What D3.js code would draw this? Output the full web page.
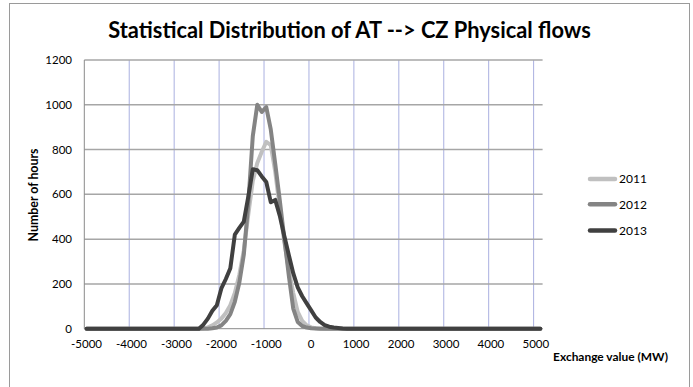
<!DOCTYPE html>
<html>
<head>
<meta charset="utf-8">
<script src="https://cdn.jsdelivr.net/npm/d3@7"></script>
<style>
  html, body { margin: 0; padding: 0; background: #fff; }
  svg { display: block; }
  text { font-family: Lato, "Open Sans", sans-serif; fill: #000; }
</style>
</head>
<body>
<div id="chart"></div>
<script>
// ---------- DATA ----------
const chartTitle = "Statistical Distribution of AT --> CZ Physical flows";
const xTitle = "Exchange value (MW)";
const yTitle = "Number of hours";
// categories: exchange value bins (MW), 100 MW steps
const categories = d3.range(-5000, 5101, 100);
const xTickLabels = ["-5000","-4000","-3000","-2000","-1000","0","1000","2000","3000","4000","5000"];
const yTicks = [0, 200, 400, 600, 800, 1000, 1200];
const seriesNames = ["2011", "2012", "2013"];

const values2011 = [
  0,0,0,0,0,0,0,0,0,0, 0,0,0,0,0,0,0,0,0,0, 0,0,0,0,0,0,
  2,6,15,28,45,70,105,160,240,350,510,660,740,790,835,820,700,540,390,265,160,75,35,15,6,2,1,
  0,0,0,0,0,0,0,0,0,0, 0,0,0,0,0,0,0,0,0,0, 0,0,0,0,0,0,0,0,0,0, 0,0,0,0,0,0,0,0,0,0, 0,0,0,0,0,0,0,0,0
];
const values2012 = [
  0,0,0,0,0,0,0,0,0,0, 0,0,0,0,0,0,0,0,0,0, 0,0,0,0,0,0,0,0,
  2,5,15,35,65,120,205,330,560,860,1000,968,990,890,735,575,405,240,90,30,12,5,2,1,
  0,0,0,0,0,0,0,0,0,0, 0,0,0,0,0,0,0,0,0,0, 0,0,0,0,0,0,0,0,0,0, 0,0,0,0,0,0,0,0,0,0, 0,0,0,0,0,0,0,0,0,0
];
const values2013 = [
  0,0,0,0,0,0,0,0,0,0, 0,0,0,0,0,0,0,0,0,0, 0,0,0,0,0,0,
  18,45,80,105,180,222,270,420,450,478,590,712,708,680,655,565,575,505,415,330,248,185,145,113,82,50,30,16,9,5,3,1,
  0,0,0,0,0,0,0,0,0,0, 0,0,0,0,0,0,0,0,0,0, 0,0,0,0,0,0,0,0,0,0, 0,0,0,0,0,0,0,0,0,0, 0,0,0,0
];
const seriesValues = [values2011, values2012, values2013];
const seriesColors = ["#c0c0c0", "#848484", "#404040"];

// ---------- LAYOUT ----------
const W = 693, H = 387;
const plot = { left: 84.3, right: 542.6, top: 60, bottom: 328.7 };

const svg = d3.select("#chart").append("svg")
  .attr("width", W).attr("height", H);

svg.append("rect").attr("width", W).attr("height", H).attr("fill", "#fff");
// chart frame
svg.append("rect")
  .attr("x", 9.5).attr("y", 3.5).attr("width", 680).attr("height", 420)
  .attr("fill", "none").attr("stroke", "#9a9a9a").attr("stroke-width", 1);

const x = d3.scaleBand().domain(categories).range([plot.left, plot.right]).padding(0);
const xc = c => x(c) + x.bandwidth() / 2;
const y = d3.scaleLinear().domain([0, 1200]).range([plot.bottom, plot.top]);

// vertical gridlines every 10 categories (category boundaries)
const gridCats = categories.filter((c, i) => i % 10 === 0 && i > 0 && i <= 100);
svg.append("g").selectAll("line").data(gridCats).join("line")
  .attr("x1", d => x(d)).attr("x2", d => x(d))
  .attr("y1", plot.top).attr("y2", plot.bottom)
  .attr("stroke", "#aab0e0").attr("stroke-width", 1);

// horizontal gridlines
svg.append("g").selectAll("line").data(yTicks.filter(t => t > 0)).join("line")
  .attr("x1", plot.left).attr("x2", plot.right)
  .attr("y1", d => y(d)).attr("y2", d => y(d))
  .attr("stroke", "#a6a6a6").attr("stroke-width", 1.5);

// axes lines
svg.append("line").attr("x1", plot.left).attr("x2", plot.left)
  .attr("y1", plot.top).attr("y2", plot.bottom)
  .attr("stroke", "#8a8a8a").attr("stroke-width", 1);
svg.append("line").attr("x1", plot.left).attr("x2", plot.right)
  .attr("y1", plot.bottom).attr("y2", plot.bottom)
  .attr("stroke", "#8a8a8a").attr("stroke-width", 1);

// y tick labels
svg.append("g").selectAll("text").data(yTicks).join("text")
  .attr("x", 72).attr("y", d => y(d)).attr("dy", "0.35em")
  .attr("text-anchor", "end").attr("font-size", 11.5)
  .text(d => d);

// x tick labels at category centers
const labelCats = categories.filter((c, i) => i % 10 === 0 && i <= 100);
svg.append("g").selectAll("text").data(labelCats).join("text")
  .attr("x", d => xc(d)).attr("y", 348)
  .attr("text-anchor", "middle").attr("font-size", 11.5)
  .text((d, i) => xTickLabels[i]);

// series lines
const line = d3.line().x((d, i) => xc(categories[i])).y(d => y(d));
svg.append("g").selectAll("path").data(seriesValues).join("path")
  .attr("d", d => line(d))
  .attr("fill", "none")
  .attr("stroke", (d, i) => seriesColors[i])
  .attr("stroke-width", 4)
  .attr("stroke-linejoin", "round")
  .attr("stroke-linecap", "round");

// legend
const legY = [179, 204.3, 230.5];
const leg = svg.append("g");
seriesNames.forEach((n, i) => {
  leg.append("line").attr("x1", 590).attr("x2", 615)
    .attr("y1", legY[i]).attr("y2", legY[i])
    .attr("stroke", seriesColors[i]).attr("stroke-width", 4.5)
    .attr("stroke-linecap", "round");
  leg.append("text").attr("x", 619).attr("y", legY[i]).attr("dy", "0.36em")
    .attr("font-size", 12).text(n);
});

// fit helper
function fit(sel, target) {
  const len = sel.node().getComputedTextLength();
  const fs = parseFloat(sel.attr("font-size"));
  sel.attr("font-size", fs * target / len);
}

// title
const t = svg.append("text").attr("x", 349.5).attr("y", 37.5)
  .attr("text-anchor", "middle").attr("font-weight", "bold")
  .attr("font-size", 20).text(chartTitle);
fit(t, 483);

// x title
const xt = svg.append("text").attr("x", 610.5).attr("y", 361)
  .attr("text-anchor", "middle").attr("font-weight", "bold")
  .attr("font-size", 11).text(xTitle);
fit(xt, 115);

// y title
const yt = svg.append("text")
  .attr("transform", "translate(37.5,195) rotate(-90)")
  .attr("text-anchor", "middle").attr("font-weight", "bold")
  .attr("font-size", 11).text(yTitle);
fit(yt, 93);
</script>
</body>
</html>
